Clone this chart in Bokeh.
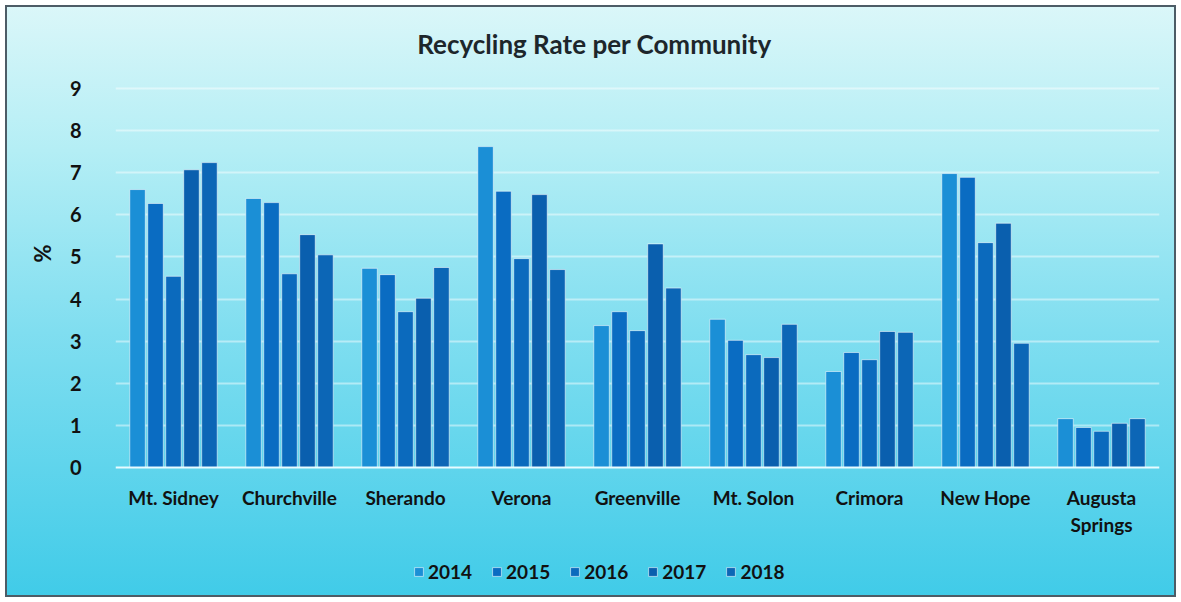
from bokeh.plotting import figure
from bokeh.models import ColumnDataSource, FactorRange, Range1d, Label, Legend, LegendItem, FixedTicker, Title
from bokeh.transform import dodge
from bokeh.embed import file_html
from bokeh.resources import INLINE

communities = ["Mt. Sidney", "Churchville", "Sherando", "Verona", "Greenville",
               "Mt. Solon", "Crimora", "New Hope", "Augusta\nSprings"]
years = ["2014", "2015", "2016", "2017", "2018"]
rate_2014 = [6.60, 6.39, 4.73, 7.62, 3.37, 3.52, 2.28, 6.98, 1.16]
rate_2015 = [6.27, 6.29, 4.58, 6.56, 3.70, 3.02, 2.73, 6.89, 0.95]
rate_2016 = [4.54, 4.60, 3.70, 4.96, 3.25, 2.68, 2.56, 5.34, 0.86]
rate_2017 = [7.07, 5.53, 4.02, 6.48, 5.31, 2.61, 3.23, 5.80, 1.05]
rate_2018 = [7.24, 5.05, 4.75, 4.70, 4.26, 3.40, 3.21, 2.95, 1.16]
y_ticks = [0, 1, 2, 3, 4, 5, 6, 7, 8, 9]

colors = ["#1b8fd6", "#0a6cc2", "#0b6abd", "#0a5fae", "#0c66b6"]
FONT = "Lato"

W, H = 1181, 602
LEFT, RIGHT = 115, 22
ZERO_PX, NINE_PX = 467, 88          # pixel rows of 0 and 9 on the value axis
PX_PER_UNIT = (ZERO_PX - NINE_PX) / 9.0

source = ColumnDataSource(dict(
    community=communities,
    y2014=rate_2014, y2015=rate_2015, y2016=rate_2016, y2017=rate_2017, y2018=rate_2018,
))

p = figure(
    width=W, height=H,
    x_range=FactorRange(*communities, range_padding=0),
    y_range=Range1d(-(H - ZERO_PX) / PX_PER_UNIT, 9 + NINE_PX / PX_PER_UNIT),
    output_backend="svg", toolbar_location=None,
    min_border_left=LEFT, min_border_right=RIGHT, min_border_top=0, min_border_bottom=0,
    background_fill_color=None, border_fill_color=None, outline_line_color=None,
    styles={
        "background": "linear-gradient(to bottom, #dcf7f9 0%, #b4eef5 25%, #80def0 55%, #3fcbe8 100%)",
        "box-shadow": "inset 0 0 0 5px #ffffff, inset 0 0 0 7px #4d5c66",
    },
)

offsets = [-0.31, -0.155, 0.0, 0.155, 0.31]
items = []
for yr, off, col in zip(years, offsets, colors):
    r = p.vbar(x=dodge("community", off, range=p.x_range), top="y" + yr, bottom=0, width=0.134,
               source=source, fill_color=col, line_color="#ffffff", line_alpha=0.55, line_width=1)
    items.append(LegendItem(label=yr, renderers=[r]))

legend = Legend(items=items, orientation="horizontal", location=(298, 19),
                background_fill_alpha=0, border_line_color=None,
                glyph_width=11, glyph_height=11, spacing=19, label_standoff=4,
                label_text_font=FONT, label_text_font_style="bold", label_text_font_size="19px",
                label_text_color="#111111", margin=0, padding=4)
p.add_layout(legend, "center")

# axes
p.yaxis.ticker = FixedTicker(ticks=y_ticks)
p.yaxis.axis_line_color = None
p.yaxis.major_tick_line_color = None
p.yaxis.minor_tick_line_color = None
p.yaxis.major_label_standoff = 28
p.yaxis.major_label_text_font = FONT
p.yaxis.major_label_text_font_style = "bold"
p.yaxis.major_label_text_font_size = "20px"
p.yaxis.major_label_text_color = "#111111"

p.xaxis.fixed_location = 0
p.xaxis.axis_line_color = "#e8fbff"
p.xaxis.axis_line_width = 2
p.xaxis.major_tick_line_color = None
p.xaxis.minor_tick_line_color = None
p.xaxis.major_label_standoff = 12
p.xaxis.major_label_text_font = FONT
p.xaxis.major_label_text_font_style = "bold"
p.xaxis.major_label_text_font_size = "19px"
p.xaxis.major_label_text_color = "#111111"

p.xgrid.grid_line_color = None
p.ygrid.ticker = FixedTicker(ticks=y_ticks[1:])
p.ygrid.grid_line_color = "#ffffff"
p.ygrid.grid_line_alpha = 0.45
p.ygrid.grid_line_width = 2

title = Label(x=594 - LEFT, y=H - 43, x_units="screen", y_units="screen",
              text="Recycling Rate per Community", text_align="center", text_baseline="middle",
              text_font=FONT, text_font_style="bold", text_font_size="26px", text_color="#1d262b")
p.add_layout(title)

# value-axis name; leading non-breaking spaces lift the symbol above the centre of the frame
ylabel = Title(text="\u00a0" * 18 + "%", align="center", standoff=22,
               text_font=FONT, text_font_style="bold", text_font_size="22px", text_color="#111111")
p.add_layout(ylabel, "left")

open("out.html", "w").write(file_html(p, INLINE))
